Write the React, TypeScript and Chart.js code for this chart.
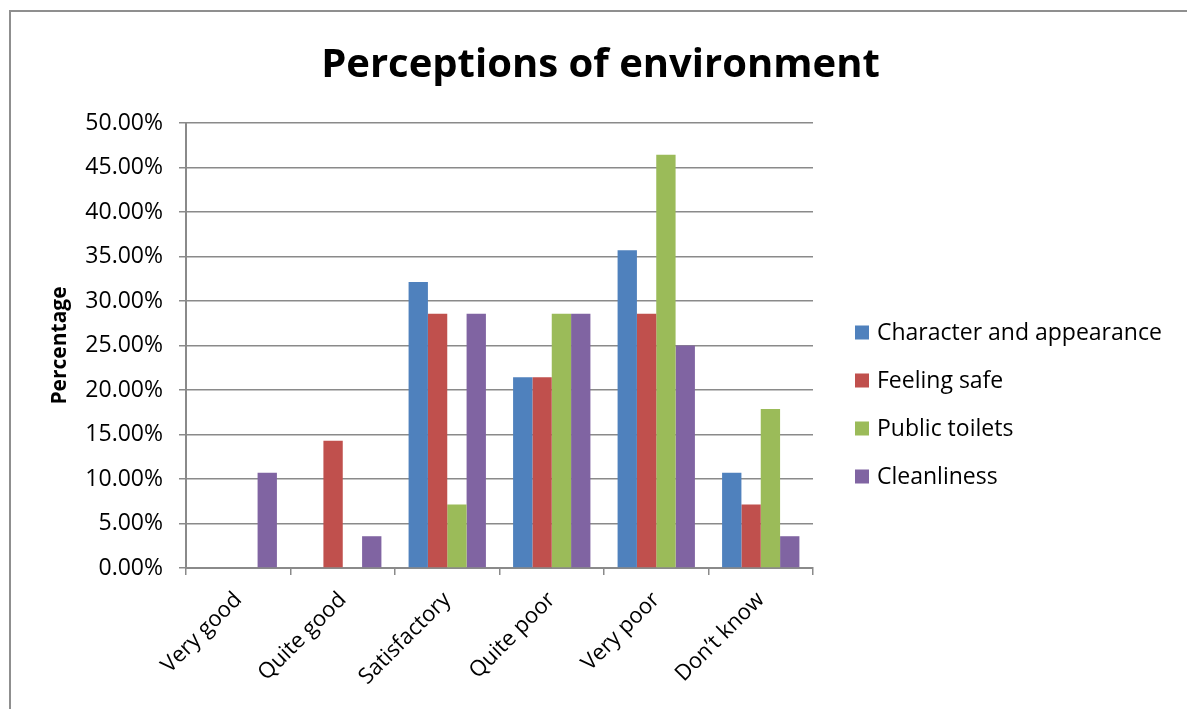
import React, { useEffect, useRef } from "react";
import { Chart, registerables } from "chart.js";

Chart.register(...registerables);

const categories = ["Very good", "Quite good", "Satisfactory", "Quite poor", "Very poor", "Don\u2019t know"];
const characterAndAppearance = [0, 0, 32.14, 21.43, 35.71, 10.71];
const feelingSafe = [0, 14.29, 28.57, 21.43, 28.57, 7.14];
const publicToilets = [0, 0, 7.14, 28.57, 46.43, 17.86];
const cleanliness = [10.71, 3.57, 28.57, 28.57, 25.0, 3.57];
const seriesNames = ["Character and appearance", "Feeling safe", "Public toilets", "Cleanliness"];
const seriesColors = ["#4F81BD", "#C0504D", "#9BBB59", "#8064A2"];

const FONT = "'Open Sans', 'Liberation Sans', sans-serif";

const framePlugin = {
  id: "frame",
  beforeDraw(chart: any) {
    const ctx = chart.ctx;
    ctx.save();
    ctx.fillStyle = "#ffffff";
    ctx.fillRect(0, 0, chart.width, chart.height);
    ctx.strokeStyle = "#8f8f8f";
    ctx.lineWidth = 2;
    ctx.strokeRect(10, 11, chart.width + 50, chart.height + 50);
    ctx.restore();
  },
};

const legendPlugin = {
  id: "sideLegend",
  afterDraw(chart: any) {
    const ctx = chart.ctx;
    const area = chart.chartArea;
    const x0 = area.right + 42;
    const rowGap = 48;
    const n = chart.data.datasets.length;
    const yMid = (area.top + area.bottom) / 2 + 59;
    ctx.save();
    ctx.font = `23px ${FONT}`;
    ctx.textBaseline = "middle";
    ctx.textAlign = "left";
    chart.data.datasets.forEach((ds: any, i: number) => {
      const y = yMid + (i - (n - 1) / 2) * rowGap;
      ctx.fillStyle = ds.backgroundColor;
      ctx.fillRect(x0, y - 7, 14, 14);
      ctx.fillStyle = "#000";
      ctx.fillText(ds.label, x0 + 22, y + 1);
    });
    ctx.restore();
  },
};

export default function App() {
  const ref = useRef<HTMLCanvasElement | null>(null);
  useEffect(() => {
    if (!ref.current) return;
    const data = [characterAndAppearance, feelingSafe, publicToilets, cleanliness];
    const chart = new Chart(ref.current, {
      type: "bar",
      data: {
        labels: categories,
        datasets: seriesNames.map((name, i) => ({
          label: name,
          data: data[i],
          backgroundColor: seriesColors[i],
          borderWidth: 0,
          barPercentage: 1,
          categoryPercentage: 0.74,
        })),
      },
      plugins: [framePlugin, legendPlugin],
      options: {
        animation: false,
        responsive: false,
        maintainAspectRatio: false,
        layout: { padding: { left: 14, right: 0, top: 0, bottom: 0 } },
        plugins: {
          title: {
            display: true,
            text: "Perceptions of environment",
            color: "#000",
            font: { family: FONT, size: 40, weight: "bold", lineHeight: 1.2 },
            padding: { top: 42, bottom: 33 },
          },
          legend: { display: false },
          tooltip: { enabled: false },
        },
        scales: {
          x: {
            grid: {
              display: true,
              drawOnChartArea: false,
              drawTicks: true,
              tickLength: 7,
              color: "#8a8a8a",
              lineWidth: 1.5,
            },
            border: { display: true, color: "#8a8a8a", width: 2 },
            ticks: {
              color: "#000",
              font: { family: FONT, size: 22 },
              minRotation: 45,
              maxRotation: 45,
              padding: 12,
            },
            afterFit: (s: any) => {
              s.height = 141;
            },
          },
          y: {
            min: 0,
            max: 50,
            ticks: {
              stepSize: 5,
              color: "#000",
              font: { family: FONT, size: 23 },
              padding: 16,
              callback: (v: any) => Number(v).toFixed(2) + "%",
            },
            grid: { color: "#8a8a8a", lineWidth: 1.5, tickLength: 7 },
            border: { display: true, color: "#8a8a8a", width: 2 },
            title: {
              display: true,
              text: "Percentage",
              color: "#000",
              font: { family: FONT, size: 21, weight: "bold" },
              padding: { top: 33, bottom: 0 },
            },
            afterFit: (s: any) => {
              s.width = 172;
            },
          },
          spacer: {
            type: "linear",
            position: "right",
            display: true,
            grid: { display: false, drawTicks: false },
            border: { display: false },
            ticks: { display: false },
            afterFit: (s: any) => {
              s.width = 374;
            },
          },
        },
      },
    });
    return () => chart.destroy();
  }, []);
  return (
    <div style={{ position: "absolute", left: 0, top: 0, width: 1187, height: 709 }}>
      <canvas ref={ref} width={1187} height={709} style={{ width: 1187, height: 709, display: "block" }} />
    </div>
  );
}
